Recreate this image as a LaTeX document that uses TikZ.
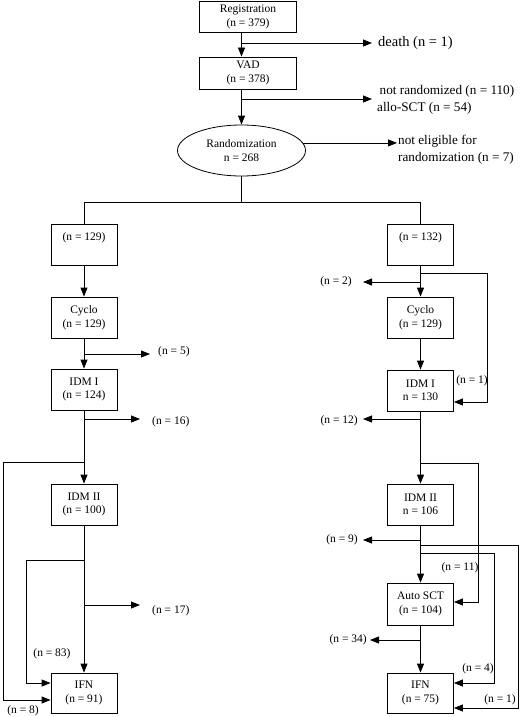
\documentclass[tikz,border=0pt]{standalone}
\usepackage{fontspec}
\setmainfont{Liberation Serif}
\usetikzlibrary{arrows.meta,shapes.geometric,calc}
\begin{document}
\begin{tikzpicture}[x=1pt,y=-1pt,
  every node/.style={font=\fontsize{11.5}{13.5}\selectfont, inner sep=0pt},
  ln/.style={line width=0.8pt},
  box/.style={draw, ln, minimum width=66pt, minimum height=41pt, align=center},
  lbl/.style={font=\fontsize{11.5}{13.5}\selectfont},
  big/.style={font=\fontsize{13.2}{17}\selectfont, align=left},
  arr/.style={ln, -{Triangle[length=9pt,width=7pt]}},
]
\useasboundingbox (0,0) rectangle (520,717);

% top part
\node[box, minimum width=97pt, minimum height=31pt] (reg) at (248,17) {Registration\\(n = 379)};
\node[box, minimum width=97pt, minimum height=32pt] (vad) at (248,73) {VAD\\(n = 378)};
\node[draw, ln, ellipse, minimum width=128pt, minimum height=51pt, align=center] (ell) at (241.5,150.5) {Randomization\\n = 268};

\coordinate (dE) at (372,43);
\draw[arr] (reg.south -| ell) -- (vad.north -| ell);
\draw[arr] (ell |- dE) -- (dE);
\node[anchor=west, font=\fontsize{14.5}{17}\selectfont] (tdeath) at (378,43) {death (n = 1)};

\coordinate (nrE) at (372,99);
\draw[arr] (vad.south -| ell) -- (ell.north);
\draw[arr] (ell |- nrE) -- (nrE);
\node[big, anchor=west] (tnr) at (377,99.5) {\hspace*{2.5pt}not randomized (n = 110)\\allo-SCT (n = 54)};

\coordinate (neE) at (397,0);
\draw[arr] (ell.7) -- (ell.7 -| neE);
\node[big, anchor=west] (tne) at (398,150) {not eligible for\\randomization (n = 7)};

% boxes
\node[box] (b1) at (84,244.5) {(n = 129)\\\phantom{(n = 129)}};
\node[box] (cL) at (84,317.5) {Cyclo\\(n = 129)};
\node[box] (i1L) at (84,389.5) {IDM I\\(n = 124)};
\node[box] (i2L) at (84,504.5) {IDM II\\(n = 100)};
\node[box, minimum height=40pt] (fL) at (84,693) {IFN\\(n = 91)};

\node[box] (b2) at (420.5,244.5) {(n = 132)\\\phantom{(n = 132)}};
\node[box] (cR) at (420.5,317.5) {Cyclo\\(n = 129)};
\node[box] (i1R) at (420.5,390.5) {IDM I\\n = 130};
\node[box] (i2R) at (420.5,504.5) {IDM II\\n = 106};
\node[box, minimum height=42pt] (au) at (420.5,604) {Auto SCT\\(n = 104)};
\node[box, minimum height=40pt] (fR) at (420.5,693) {IFN\\(n = 75)};

% split
\coordinate (sp) at (241,202);
\draw[ln] (ell.south) -- (ell.south |- sp);
\draw[ln] (b1.north) -- (b1.north |- sp) -- (b2.north |- sp) -- (b2.north);

% left column
\draw[arr] (b1) -- (cL);
\draw[arr] (cL) -- (i1L);
\draw[arr] (i1L) -- (i2L);
\draw[arr] (i2L) -- (fL);

\coordinate (e5) at (150,354);
\draw[arr] (cL.south |- e5) -- (e5);
\node[lbl, anchor=west] (t5) at (158,352) {(n = 5)};
\coordinate (e16) at (140,419);
\draw[arr] (i1L.south |- e16) -- (e16);
\node[lbl, anchor=west] (t16) at (152,422) {(n = 16)};
\coordinate (e17) at (140,605);
\draw[arr] (i2L.south |- e17) -- (e17);
\node[lbl, anchor=west] (t17) at (152,611) {(n = 17)};

\coordinate (k8) at (3,462);
\draw[arr] (i1L.south |- k8) -- (k8) |- ($(fL.west)+(0,7)$);
\coordinate (k83) at (26,560);
\draw[arr] (i2L.south |- k83) -- (k83) |- ($(fL.west)+(0,-10)$);
\node[lbl] (t83) at (52,654) {(n = 83)};
\node[lbl] (t8) at (23,711) {(n = 8)};

% right column
\draw[arr] (b2) -- (cR);
\draw[arr] (cR) -- (i1R);
\draw[arr] (i1R) -- (i2R);
\draw[arr] (i2R) -- (au);
\draw[arr] (au) -- (fR);

\coordinate (e2) at (363,282);
\draw[arr] (b2.south |- e2) -- (e2);
\node[lbl, anchor=east] (t2) at (352,282) {(n = 2)};
\coordinate (k1) at (487,273);
\draw[arr] (b2.south |- k1) -- (k1) |- ($(i1R.east)+(0,11.5)$);
\node[lbl] (t1a) at (472,381) {(n = 1)};

\coordinate (e12) at (363,419);
\draw[arr] (i1R.south |- e12) -- (e12);
\node[lbl, anchor=east] (t12) at (358,421) {(n = 12)};
\coordinate (k11) at (478,463);
\draw[arr] (i1R.south |- k11) -- (k11) |- ($(au.east)+(0,-2)$);
\node[lbl] (t11) at (460,568) {(n = 11)};

\coordinate (e9) at (363,540);
\draw[arr] (i2R.south |- e9) -- (e9);
\node[lbl, anchor=east] (t9) at (358,540) {(n = 9)};
\coordinate (k1b) at (518,545);
\draw[arr] (i2R.south |- k1b) -- (k1b) |- ($(fR.east)+(0,15)$);
\node[lbl] (t1b) at (500,700) {(n = 1)};
\coordinate (k4) at (494,553);
\draw[arr] (i2R.south |- k4) -- (k4) |- ($(fR.east)+(0,-10)$);
\node[lbl] (t4) at (478,669) {(n = 4)};

\coordinate (e34) at (370,640);
\draw[arr] (au.south |- e34) -- (e34);
\node[lbl, anchor=east] (t34) at (367,640) {(n = 34)};
\end{tikzpicture}
\end{document}
